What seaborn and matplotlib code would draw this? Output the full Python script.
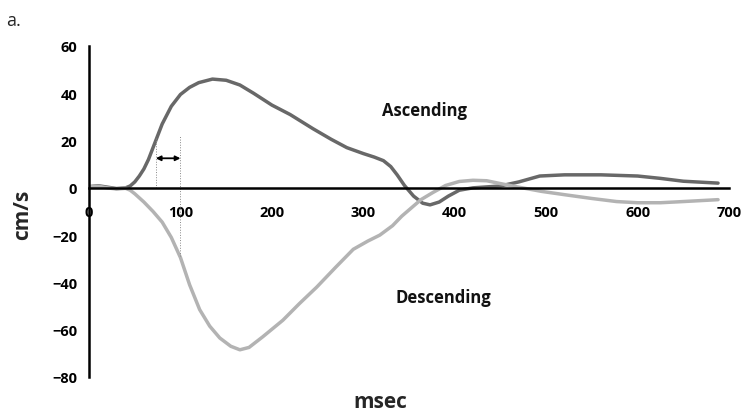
import pandas as pd
import numpy as np
import matplotlib
matplotlib.use("Agg")
import matplotlib.pyplot as plt
import seaborn as sns

# data (msec, cm/s)
asc_t = [0, 10, 20, 30, 40, 45, 50, 55, 60, 65, 70, 80, 90, 100, 110, 120, 135, 150, 165,
         180, 200, 220, 245, 265, 282, 300, 312, 322, 330, 337, 345, 355, 365, 373, 383,
         393, 405, 420, 450, 470, 493, 520, 560, 600, 625, 650, 688]
asc_v = [0.5, 0.9, 0.3, -0.3, 0.0, 0.8, 2.5, 5, 8, 12, 17, 27, 34.5, 39.5, 42.5, 44.5,
         46, 45.5, 43.5, 40, 35, 31, 25, 20.5, 17, 14.5, 13, 11.5, 9, 5.5, 1, -3.5, -6.5,
         -7.2, -6, -3.5, -1, 0, 0.8, 2.5, 5, 5.5, 5.5, 5, 4, 2.8, 2]

desc_t = [0, 10, 20, 30, 40, 45, 50, 60, 70, 80, 90, 100, 110, 121, 132, 143, 155, 165,
          175, 190, 212, 230, 249, 270, 289, 305, 318, 332, 342, 351, 363, 376, 390, 405,
          420, 435, 450, 467, 495, 522, 550, 577, 600, 625, 650, 688]
desc_v = [0.5, 0.7, 0, -0.5, -0.2, -1, -2.5, -6, -10, -14.5, -21, -29.5, -41, -51.5,
          -58.5, -63.5, -67, -68.5, -67.5, -63, -56, -49, -42, -33.5, -26, -22.5, -20,
          -16, -12, -9, -5, -2, 1, 2.7, 3.2, 3, 1.8, 0.5, -1.5, -3, -4.5, -5.8, -6.3,
          -6.3, -5.8, -5]

marker_t = [73, 100]          # dotted guide lines
marker_top = [21, 22.5]
marker_bottom = [0, -29]
arrow_y = 12.5

df = pd.concat([
    pd.DataFrame({"msec": asc_t, "cms": asc_v, "dir": "Ascending"}),
    pd.DataFrame({"msec": desc_t, "cms": desc_v, "dir": "Descending"}),
])

sns.set_style("white")
plt.rcParams["font.family"] = ["Open Sans", "DejaVu Sans"]

fig = plt.figure(figsize=(7.42, 4.14), dpi=100)
ax = fig.add_axes([0.12, 0.087, 0.8625, 0.7995])

sns.lineplot(data=df, x="msec", y="cms", hue="dir", sort=False,
             palette={"Ascending": "#686868", "Descending": "#b3b3b3"},
             linewidth=2.5, legend=False, ax=ax,
             solid_joinstyle="round", solid_capstyle="round")

# thin guide lines and double arrow
for t, top, bot in zip(marker_t, marker_top, marker_bottom):
    ax.plot([t, t], [bot, top], color="#888888", linewidth=0.7, linestyle=":")
ax.annotate("", xy=(marker_t[0], arrow_y), xytext=(marker_t[1], arrow_y),
            arrowprops=dict(arrowstyle="<|-|>", color="black", lw=1.3,
                            mutation_scale=7, shrinkA=0, shrinkB=0))

ax.text(320, 33, "Ascending", fontsize=12, fontweight="bold", va="center", color="#111111")
ax.text(335, -46, "Descending", fontsize=12, fontweight="bold", va="center", color="#111111")

ax.set_xlim(0, 700)
ax.set_ylim(-80, 60)
ax.set_xticks(range(0, 701, 100))
ax.set_yticks(range(-80, 61, 20))
ax.spines["bottom"].set_position(("data", 0))
ax.spines["top"].set_visible(False)
ax.spines["right"].set_visible(False)
for s in ["left", "bottom"]:
    ax.spines[s].set_linewidth(1.8)
    ax.spines[s].set_color("black")
ax.tick_params(axis="both", direction="out", length=5, width=1.5, colors="black",
               labelsize=10.5)
ax.tick_params(axis="x", pad=7)
for lab in ax.get_xticklabels() + ax.get_yticklabels():
    lab.set_fontweight("bold")

ax.set_xlabel("")
ax.set_ylabel("")
fig.text(0.03, 0.48, "cm/s", rotation=90, fontsize=15, fontweight="bold",
         ha="center", va="center")
fig.text(0.512, 0.027, "msec", fontsize=15, fontweight="bold", ha="center", va="center")
fig.text(0.008, 0.95, "a.", fontsize=13, ha="left", va="center")

fig.savefig("out.png", dpi=100)
